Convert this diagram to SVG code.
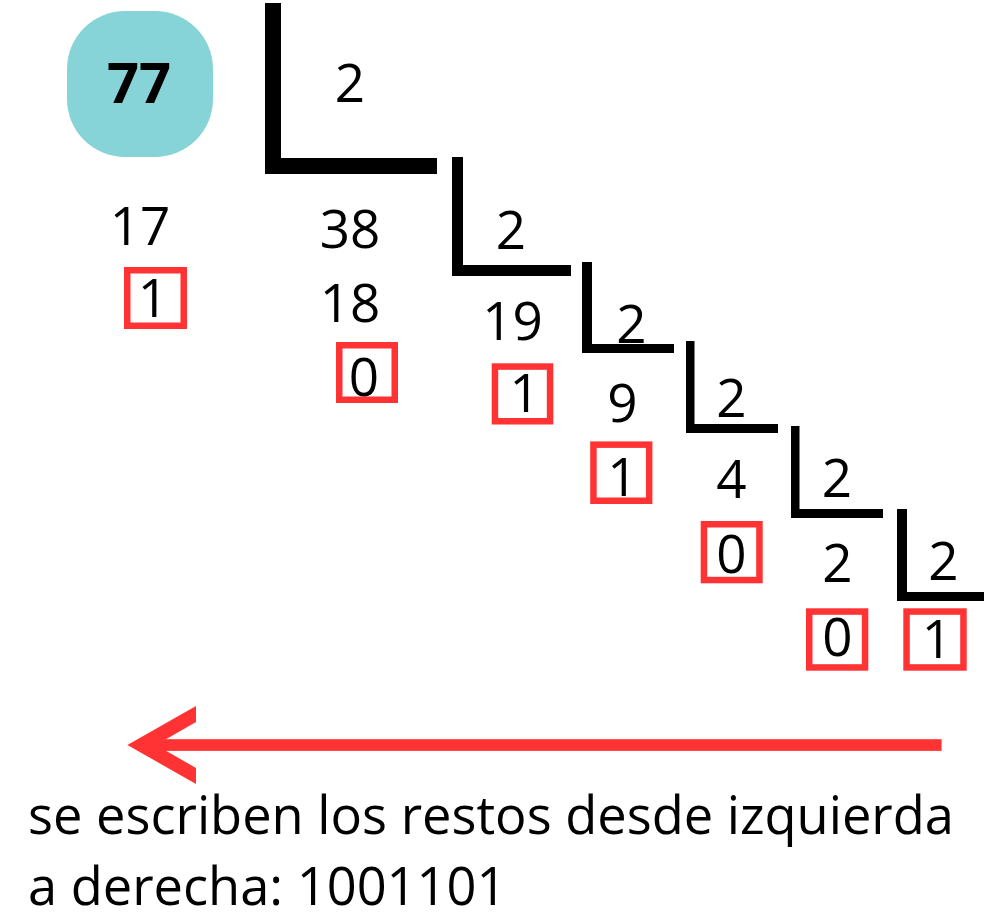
<svg xmlns="http://www.w3.org/2000/svg" width="984" height="916" viewBox="0 0 984 916">
<style>
.t{font-family:"Open Sans","Noto Sans","DejaVu Sans",sans-serif;font-size:53px;fill:#000;text-anchor:middle}
.b{fill:none;stroke:#ff3333;stroke-width:6.5}
.bar{fill:#000}
.cap{font-family:"Open Sans","Noto Sans","DejaVu Sans",sans-serif;font-size:52.4px;fill:#000}
</style>
<rect width="984" height="916" fill="#fff"/>
<g id="n77">
<rect x="67" y="11" width="146" height="146" rx="58" ry="58" fill="#86d4d8"/>
<text x="139" y="103" style="font-family:'Open Sans','Noto Sans',sans-serif;font-size:56px;font-weight:bold;text-anchor:middle">77</text>
</g>
<g id="divisions">
<path class="bar" d="M265,3 H281 V158 H437 V174 H265 Z"/>
<path class="bar" d="M452,157 H463 V265 H571 V276 H452 Z"/>
<path class="bar" d="M582,262 H592 V344 H674 V353 H582 Z"/>
<path class="bar" d="M686,341 H694.5 V424 H778 V433 H686 Z"/>
<path class="bar" d="M791,426 H799.5 V509 H883 V518 H791 Z"/>
<path class="bar" d="M897,509 H907 V592 H984 V601 H897 Z"/>
<text class="t" x="350" y="102">2</text>
<text class="t" x="511" y="249">2</text>
<text class="t" x="631.5" y="343">2</text>
<text class="t" x="731.5" y="417">2</text>
<text class="t" x="837" y="497">2</text>
<text class="t" x="943.5" y="580">2</text>
</g>
<g id="numbers">
<text class="t" x="140" y="245">17</text>
<text class="t" x="350" y="248">38</text>
<text class="t" x="350" y="322">18</text>
<text class="t" x="512.5" y="340">19</text>
<text class="t" x="622.5" y="422">9</text>
<text class="t" x="731.5" y="498">4</text>
<text class="t" x="837.5" y="582">2</text>
</g>
<g id="remainders">
<rect class="b" x="127.25" y="270.25" width="56.5" height="55.5"/>
<text class="t" x="153" y="317">1</text>
<rect class="b" x="339.25" y="345.25" width="55.5" height="54.5"/>
<text class="t" x="364" y="396">0</text>
<rect class="b" x="494.95" y="366.55" width="55.1" height="54.7"/>
<text class="t" x="524.7" y="412">1</text>
<rect class="b" x="593.45" y="444.65" width="55.7" height="56.1"/>
<text class="t" x="622.4" y="495.5">1</text>
<rect class="b" x="703.95" y="524.25" width="55.5" height="55.8"/>
<text class="t" x="731.3" y="572.5">0</text>
<rect class="b" x="809.25" y="611.55" width="55.8" height="55.9"/>
<text class="t" x="837.5" y="656">0</text>
<rect class="b" x="906.55" y="611.55" width="56.9" height="55.9"/>
<text class="t" x="937" y="657.5">1</text>
</g>
<g id="connectors">
<rect x="150" y="739.2" width="791.6" height="11.7" fill="#ff3333"/>
<polygon points="196,706 127.4,745 196,784 196,768 156,745 196,722" fill="#ff3333"/>
</g>
<g id="caption">
<text class="cap" x="28" y="834">se escriben los restos desde izquierda</text>
<text class="cap" x="28" y="905">a derecha: 1001101</text>
</g>
</svg>
